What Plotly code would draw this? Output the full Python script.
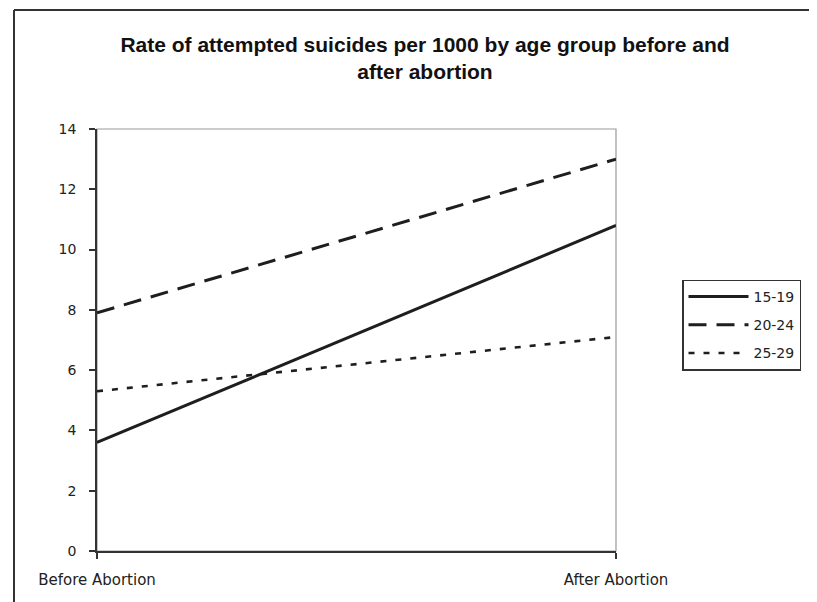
import plotly.graph_objects as go

categories = ["Before Abortion", "After Abortion"]
series_names = ["15-19", "20-24", "25-29"]
values_15_19 = [3.6, 10.8]
values_20_24 = [7.9, 13.0]
values_25_29 = [5.3, 7.1]
y_ticks = [0, 2, 4, 6, 8, 10, 12, 14]

series = [values_15_19, values_20_24, values_25_29]
dashes = ["solid", "18px,10px", "6px,9px"]
widths = [3, 3, 2.6]

fig = go.Figure()
for i, (name, vals) in enumerate(zip(series_names, series)):
    fig.add_trace(go.Scatter(
        x=categories, y=vals, mode="lines", name=name,
        legendgroup=name,
        line=dict(color="#1e1e1e", width=widths[i], dash=dashes[i]),
    ))

title_font = "Liberation Sans, Arial, sans-serif"
tick_font = "DejaVu Sans, Verdana, sans-serif"
OFF = 8  # page body offset
W, H = 817 - OFF, 602 - OFF
L = 97 - OFF
T = 129 - OFF
R = W - (616 - OFF)
B = H - (551 - OFF)
pw, ph = W - L - R, H - T - B


def px_to_paper_x(sx):
    return (sx - OFF - L) / pw


def px_to_paper_y(sy):
    return (H - B - (sy - OFF)) / ph


fig.update_layout(
    width=W, height=H,
    margin=dict(l=L, r=R, t=T, b=B),
    paper_bgcolor="white", plot_bgcolor="white",
    title=dict(
        text="<b>Rate of attempted suicides per 1000 by age group before and<br>after abortion</b>",
        x=(425 - OFF) / W, xanchor="center", y=1 - (52 - OFF) / H, yanchor="middle",
        font=dict(family=title_font, size=21, color="#111"),
    ),
    showlegend=True,
    legend=dict(
        x=px_to_paper_x(682), xanchor="left",
        y=px_to_paper_y(325), yanchor="middle",
        bgcolor="white", bordercolor="#333", borderwidth=1.5,
        font=dict(family=tick_font, size=14, color="#222"),
        traceorder="grouped", tracegroupgap=7, itemwidth=60,
    ),
    xaxis=dict(
        type="category", range=[0, 1], showgrid=False, zeroline=False,
        showline=True, linecolor="#333", linewidth=1.5,
        ticks="outside", ticklen=6, tickcolor="#333", tickwidth=1.5,
        tickfont=dict(family=tick_font, size=15, color="#222"),
        ticklabelstandoff=8,
    ),
    yaxis=dict(
        range=[0, 14], tickvals=y_ticks, showgrid=False, zeroline=False,
        showline=True, linecolor="#333", linewidth=1.5,
        ticks="outside", ticklen=6, tickcolor="#333", tickwidth=1.5,
        tickfont=dict(family=tick_font, size=14, color="#222"),
        ticklabelstandoff=10,
    ),
    shapes=[
        dict(type="rect", xref="x domain", yref="y domain", x0=0, x1=1, y0=0, y1=1,
             line=dict(color="#999", width=1.2), layer="below"),
        dict(type="line", xref="paper", yref="paper",
             x0=px_to_paper_x(14), x1=px_to_paper_x(14),
             y0=px_to_paper_y(10), y1=px_to_paper_y(640),
             line=dict(color="#333", width=2), layer="below"),
        dict(type="line", xref="paper", yref="paper",
             x0=px_to_paper_x(14), x1=px_to_paper_x(860),
             y0=px_to_paper_y(10), y1=px_to_paper_y(10),
             line=dict(color="#333", width=2), layer="below"),
    ],
)

fig.write_html("out.html")
